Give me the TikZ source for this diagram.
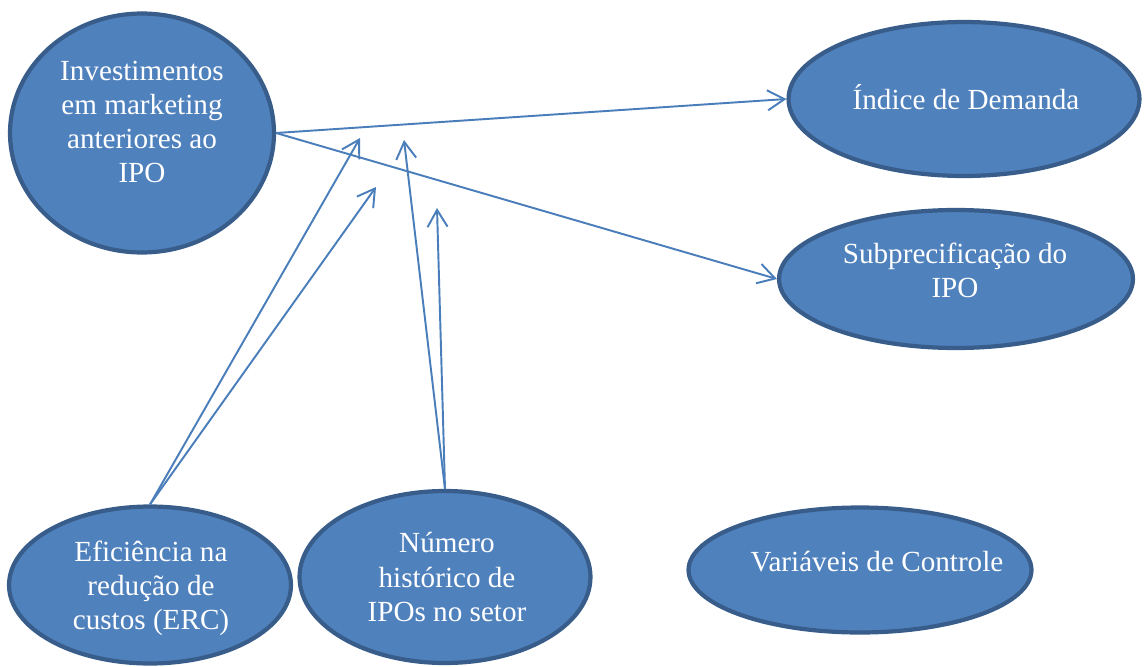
\documentclass[tikz,border=0pt]{standalone}
\usepackage{fontspec}
\setmainfont{Liberation Serif}
\usetikzlibrary{shapes.geometric,arrows.meta}
\definecolor{bubblefill}{RGB}{79,129,189}
\definecolor{bubbleline}{RGB}{56,93,138}
\definecolor{linkblue}{RGB}{74,126,187}

\begin{document}
\begin{tikzpicture}[x=0.02cm, y=-0.02cm,
        bubble/.style={ellipse, fill=bubblefill, draw=bubbleline, line width=2.4pt, inner sep=0pt},
        txt/.style={text=white, align=center, inner sep=0pt, font=\fontsize{16.6}{19.4}\selectfont},
        link/.style={draw=linkblue, line width=1.1pt, -{Straight Barb[length=3.4mm, width=4mm]}}]
        \useasboundingbox (0,0) rectangle (1146,666);

        % variables
        \node[bubble, minimum width=5.28cm, minimum height=4.78cm] (invest) at (142,133) {};
        \node[bubble, minimum width=7.02cm, minimum height=3.08cm] (demanda) at (964,99) {};
        \node[bubble, minimum width=7.08cm, minimum height=2.76cm] (subprec) at (956,279) {};
        \node[bubble, minimum width=5.64cm, minimum height=3.14cm] (erc) at (150,585) {};
        \node[bubble, minimum width=5.82cm, minimum height=3.44cm] (hist) at (445,577) {};
        \node[bubble, minimum width=6.86cm, minimum height=2.5cm] (controle) at (860,570) {};

        \node[txt] (invest-txt) at (142,122) {Investimentos\\em marketing\\anteriores ao\\IPO};
        \node[txt] (demanda-txt) at (966,97) {Índice de Demanda};
        \node[txt] (subprec-txt) at (955,270) {Subprecificação do\\IPO};
        \node[txt] (erc-txt) at (151,588) {Eficiência na\\redução de\\custos (ERC)};
        \node[txt] (hist-txt) at (447,577) {Número\\histórico de\\IPOs no setor};
        \node[txt] (controle-txt) at (877,562) {Variáveis de Controle};

        % moderating arrows end in free space
        \coordinate (m1) at (360,138);
        \coordinate (m2) at (376,187);
        \coordinate (m3) at (404,140);
        \coordinate (m4) at (437,208);

        \draw[link] (invest.east) -- (demanda.west);
        \draw[link] (invest.east) -- (subprec.west);
        \draw[link] (erc.north) -- (m1);
        \draw[link] (erc.north) -- (m2);
        \draw[link] (hist.north) -- (m3);
        \draw[link] (hist.north) -- (m4);
    \end{tikzpicture}
\end{document}
